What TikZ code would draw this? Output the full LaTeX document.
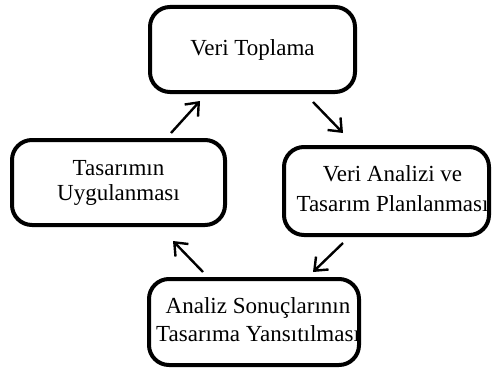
\documentclass[tikz,border=0pt]{standalone}
\usepackage{fontspec}
\setmainfont{Liberation Serif}
\usetikzlibrary{arrows.meta}
\begin{document}
\begin{tikzpicture}[x=1pt,y=-1pt,
  stagebox/.style={draw=black, line width=4pt, rounded corners=20pt, fill=white,
    align=center, inner sep=0pt, font=\fontsize{23}{28.5}\selectfont},
  flowarrow/.style={line width=2.4pt, -{Straight Barb[length=11pt,width=18pt]}}]
\useasboundingbox (0,0) rectangle (492,369);
\node[stagebox, minimum width=205pt, minimum height=85pt] (top) at (252.5,49.5) {Veri Toplama};
\node[stagebox, minimum width=205pt, minimum height=88pt] (right) at (386.5,191)
  {\makebox[0pt]{\hspace{12pt}\begin{tabular}{@{}c@{}}Veri Analizi ve\\[1pt]Tasarım Planlanması\end{tabular}}};
\node[stagebox, minimum width=210pt, minimum height=86pt] (bottom) at (254,322)
  {\makebox[0pt]{\hspace{8pt}\begin{tabular}{@{}c@{}}Analiz Sonuçlarının\\Tasarıma Yansıtılması\end{tabular}}};
\node[stagebox, minimum width=213pt, minimum height=85pt, font=\fontsize{23}{25}\selectfont] (left) at (118.5,182.5)
  {Tasarımın\\Uygulanması};
\coordinate (a1s) at (313,102);
\coordinate (a1e) at (343,133);
\coordinate (a2s) at (343,243);
\coordinate (a2e) at (313,272);
\coordinate (a3s) at (203,272);
\coordinate (a3e) at (173,241);
\coordinate (a4s) at (171,133);
\coordinate (a4e) at (200,101);
\draw[flowarrow] (a1s) -- (a1e);
\draw[flowarrow] (a2s) -- (a2e);
\draw[flowarrow] (a3s) -- (a3e);
\draw[flowarrow] (a4s) -- (a4e);
\end{tikzpicture}
\end{document}
